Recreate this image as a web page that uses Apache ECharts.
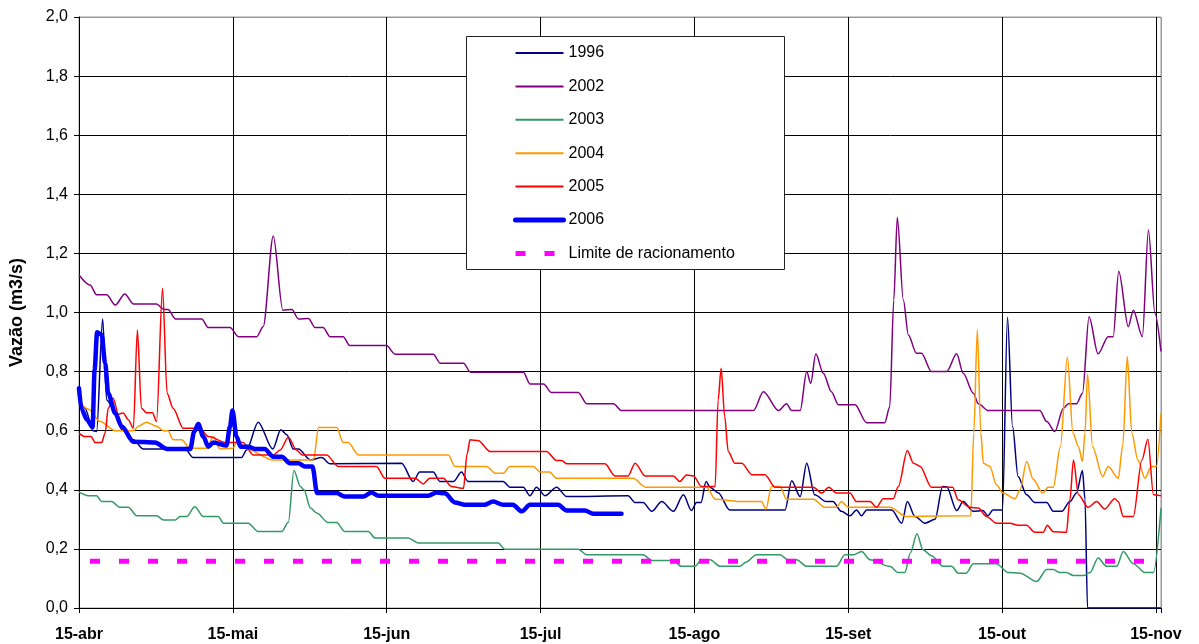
<!DOCTYPE html>
<html>
<head>
<meta charset="utf-8">
<script src="https://cdn.jsdelivr.net/npm/echarts@6/dist/echarts.min.js"></script>
<style>
  html, body { margin: 0; padding: 0; background: #fff; }
  #chart { width: 1199px; height: 644px; }
</style>
</head>
<body>
<div id="chart"></div>
<script>
// x = days since 15-abr, y = vazão (m3/s)
var monthLabels = ['15-abr', '15-mai', '15-jun', '15-jul', '15-ago', '15-set', '15-out', '15-nov'];
var seriesNames = ['1996', '2002', '2003', '2004', '2005', '2006', 'Limite de racionamento'];

var s1996 = [[0,0.704],[1.2,0.676],[2.8,0.60],[3.5,0.597],[4.7,0.979],[5.5,0.704],[7.2,0.665],[8.5,0.603],[10.8,0.569],[12.8,0.538],[21.1,0.538],[22.7,0.509],[32.3,0.509],[33.3,0.535],[35.6,0.629],[38.5,0.538],[40.1,0.603],[41.3,0.586],[42.6,0.538],[43.6,0.538],[46,0.501],[48.2,0.509],[49.9,0.488],[64.1,0.49],[66.4,0.428],[67.7,0.46],[70.4,0.46],[71.7,0.428],[74.4,0.428],[76,0.46],[77.3,0.428],[84.3,0.428],[85.6,0.409],[88.3,0.409],[89.6,0.38],[90.9,0.409],[92.6,0.38],[94.9,0.409],[96.9,0.377],[109.1,0.38],[110.5,0.357],[112.1,0.357],[113.8,0.327],[115.8,0.36],[118.1,0.327],[120.1,0.383],[121.7,0.33],[122.7,0.357],[123.6,0.357],[124.6,0.428],[125.4,0.409],[127,0.39],[129.3,0.332],[140.3,0.332],[141.6,0.431],[143.3,0.377],[144.6,0.49],[146.2,0.383],[148.5,0.36],[149.8,0.36],[151.5,0.327],[153.2,0.312],[154.5,0.332],[155.5,0.312],[156.5,0.332],[161.5,0.332],[163.5,0.287],[164.6,0.36],[166.1,0.31],[168.1,0.287],[170.1,0.30],[171.6,0.411],[172.4,0.41],[174.4,0.33],[175.7,0.36],[177.7,0.327],[179.6,0.33],[180.6,0.312],[181.6,0.332],[183.5,0.332],[184.5,0.984],[185.5,0.614],[186.6,0.445],[188.3,0.383],[189.9,0.357],[192.3,0.357],[193.6,0.327],[195.3,0.327],[196.9,0.36],[198.2,0.389],[199.4,0.465],[199.9,0.367],[200.4,0],[215,0]];

var s2002 = [[0,1.127],[2.2,1.093],[3.5,1.06],[5.5,1.06],[7.2,1.025],[9.1,1.063],[10.8,1.029],[15.4,1.029],[16.8,1.011],[17.7,1.01],[19.2,0.978],[24.4,0.978],[25.7,0.949],[30,0.949],[31.7,0.918],[35.3,0.918],[36.6,0.952],[38.6,1.259],[40.5,1.008],[42.3,1.01],[43.6,0.978],[45.6,0.98],[46.9,0.949],[48.5,0.949],[49.9,0.918],[52.5,0.918],[53.8,0.888],[61.1,0.888],[62.8,0.859],[70.4,0.859],[71.8,0.828],[76.4,0.828],[77.8,0.798],[88.3,0.798],[89.6,0.758],[92.3,0.758],[93.9,0.729],[99.2,0.729],[100.9,0.691],[106.2,0.691],[107.8,0.668],[134,0.668],[136,0.732],[139,0.668],[140.6,0.691],[141.6,0.668],[143.3,0.668],[144.6,0.80],[145.4,0.76],[146.4,0.86],[147.9,0.794],[149.5,0.732],[150.9,0.688],[154.2,0.688],[156.5,0.627],[160.1,0.627],[161.1,0.68],[161.9,1.042],[162.6,1.322],[163.8,1.042],[164.8,0.924],[166.4,0.862],[167.4,0.862],[169.4,0.80],[172.4,0.80],[174.4,0.86],[175.7,0.794],[177.7,0.727],[178.7,0.691],[180.7,0.668],[190.9,0.668],[192.3,0.631],[193.9,0.597],[195.6,0.676],[196.6,0.691],[198.2,0.691],[199.4,0.727],[200.7,0.986],[202.5,0.86],[204.5,0.918],[205.5,0.918],[206.6,1.14],[208.5,0.952],[209.5,1.008],[211.3,0.918],[212.5,1.279],[213.8,0.997],[215,0.868]];

var s2003 = [[0,0.392],[1.9,0.38],[3.5,0.38],[4.5,0.36],[6.5,0.36],[8.1,0.341],[9.8,0.341],[11.5,0.312],[15.4,0.312],[16.8,0.298],[19.1,0.298],[20.1,0.31],[21.4,0.31],[23.0,0.343],[24.7,0.31],[27.7,0.31],[28.7,0.287],[33.6,0.287],[35.6,0.259],[40.3,0.259],[41.6,0.29],[42.7,0.465],[44,0.411],[44.7,0.40],[46,0.338],[47.3,0.321],[49.5,0.289],[51.2,0.289],[52.8,0.259],[57.5,0.259],[58.8,0.237],[65.4,0.237],[67.4,0.22],[83.3,0.22],[84.6,0.199],[99.2,0.199],[100.9,0.18],[112.1,0.18],[113.8,0.161],[118.1,0.161],[119.7,0.141],[122.4,0.141],[123.7,0.163],[125.4,0.163],[127.4,0.141],[131.3,0.141],[132.5,0.155],[134.6,0.18],[139.3,0.18],[140.9,0.163],[142.6,0.163],[144.6,0.141],[150.5,0.141],[152.2,0.18],[153.9,0.18],[155.5,0.191],[157.2,0.163],[161.1,0.141],[162.8,0.12],[164.1,0.12],[165.2,0.186],[166.5,0.251],[167.7,0.197],[169.4,0.177],[171.7,0.141],[173.4,0.141],[174.7,0.118],[176.3,0.118],[177.7,0.15],[182.3,0.15],[184.6,0.12],[187,0.118],[190.3,0.09],[192.3,0.13],[193.6,0.13],[194.9,0.12],[196.2,0.12],[197.6,0.11],[199.6,0.11],[200.9,0.12],[202.5,0.169],[204.2,0.141],[206.2,0.141],[207.5,0.191],[209.5,0.15],[211.8,0.12],[213.5,0.12],[215,0.338]];

var s2004 = [[0,0.698],[1.9,0.673],[4.2,0.631],[7.2,0.60],[10.8,0.60],[11.8,0.615],[13.4,0.629],[15.4,0.615],[16.8,0.60],[17.7,0.60],[18.7,0.569],[20.4,0.569],[22,0.541],[25.4,0.541],[26.7,0.58],[28,0.538],[30.6,0.541],[31.5,0.567],[33,0.541],[38.6,0.501],[46.6,0.501],[47.6,0.611],[51.2,0.611],[52.5,0.56],[53.5,0.56],[55.5,0.518],[73.4,0.518],[74.7,0.479],[81,0.479],[82.7,0.456],[84.3,0.456],[85.6,0.479],[90.3,0.479],[91.6,0.46],[93.5,0.46],[94.9,0.439],[110.1,0.439],[112.6,0.409],[124.7,0.409],[126.4,0.368],[132,0.36],[135.6,0.36],[136.5,0.335],[137.6,0.411],[139.3,0.411],[140.6,0.368],[145.9,0.368],[148.2,0.341],[150.5,0.341],[151.5,0.36],[152.9,0.341],[161.1,0.341],[164.4,0.31],[177.2,0.312],[177.8,0.592],[178.5,0.941],[179.2,0.592],[179.7,0.49],[181,0.479],[182.3,0.417],[183.6,0.389],[186,0.37],[187,0.40],[188.3,0.496],[189.6,0.436],[191.5,0.389],[192.6,0.409],[193.6,0.409],[195,0.546],[196.4,0.849],[197.5,0.592],[198.6,0.546],[199.4,0.496],[199.9,0.592],[200.4,0.792],[201.4,0.546],[203.4,0.445],[204.5,0.479],[206.5,0.439],[207.4,0.55],[208.3,0.851],[209.2,0.592],[210.4,0.501],[211.8,0.439],[213.1,0.479],[214.1,0.479],[215,0.66]];

var s2005 = [[0,0.592],[1.2,0.58],[2.4,0.58],[3.2,0.56],[4.5,0.56],[5.2,0.592],[5.8,0.676],[6.8,0.71],[7.8,0.656],[8.8,0.66],[9.8,0.637],[10.8,0.608],[11.6,0.941],[12.4,0.676],[13.4,0.661],[14.6,0.661],[15.4,0.631],[16.6,1.082],[17.5,0.727],[18.7,0.676],[20.7,0.608],[24,0.608],[25.7,0.58],[29.3,0.56],[32.6,0.56],[34.6,0.518],[38.6,0.518],[40,0.535],[41.6,0.578],[43.2,0.535],[44.4,0.518],[49.2,0.518],[51.5,0.479],[59.1,0.479],[60.8,0.439],[66.8,0.439],[68.4,0.42],[69.7,0.439],[72.4,0.439],[74,0.411],[76.4,0.405],[77.1,0.52],[77.7,0.569],[79.3,0.567],[81.7,0.53],[92.9,0.53],[94.9,0.499],[95.9,0.499],[96.9,0.488],[104.5,0.488],[106.5,0.447],[109.1,0.447],[110.5,0.49],[112.5,0.447],[118.1,0.447],[119.4,0.428],[120.7,0.45],[122.1,0.447],[123.7,0.411],[126.4,0.411],[127,0.704],[127.6,0.811],[128.3,0.648],[129,0.53],[130.3,0.49],[131.7,0.49],[133.7,0.451],[136.3,0.451],[138.3,0.409],[145.9,0.409],[147.6,0.389],[149,0.409],[150.5,0.389],[153.2,0.389],[154.5,0.36],[157.2,0.36],[158.5,0.341],[159.8,0.37],[161.8,0.37],[162.8,0.411],[164.6,0.533],[165.8,0.49],[167.1,0.48],[169.4,0.409],[173.6,0.409],[174.7,0.366],[177,0.341],[178.7,0.338],[180.3,0.31],[182.3,0.287],[185,0.287],[186.6,0.28],[188.3,0.28],[189.9,0.256],[191.6,0.256],[192.4,0.28],[193.6,0.258],[196.2,0.256],[196.9,0.366],[197.6,0.501],[198.6,0.383],[200.5,0.341],[202.2,0.36],[203.8,0.335],[205.8,0.37],[206.5,0.36],[207.5,0.31],[209.5,0.31],[211.2,0.501],[212.4,0.571],[213.5,0.383],[215,0.38]];

var s2006 = [[0,0.744],[0.5,0.673],[1.6,0.637],[2.7,0.612],[3.1,0.806],[3.6,0.933],[4.5,0.925],[5.2,0.828],[5.8,0.727],[7.2,0.659],[8.5,0.614],[10.8,0.563],[15.1,0.56],[17.5,0.538],[22.1,0.538],[22.9,0.597],[23.7,0.623],[24.7,0.58],[25.7,0.546],[26.7,0.56],[29.3,0.55],[30,0.614],[30.5,0.668],[31.3,0.58],[32.1,0.546],[33.6,0.546],[35,0.538],[36.9,0.538],[38.6,0.512],[40.3,0.512],[41.9,0.49],[43.6,0.49],[44.9,0.479],[46.4,0.479],[47.3,0.389],[51.2,0.389],[52.8,0.377],[56.5,0.377],[58.1,0.391],[59.5,0.38],[69.4,0.38],[71.1,0.391],[72.7,0.388],[74.7,0.357],[76.7,0.349],[80.5,0.349],[82.3,0.36],[84.3,0.349],[86.2,0.349],[88,0.327],[89.6,0.349],[95.2,0.349],[96.9,0.33],[100.5,0.33],[102.2,0.319],[107.8,0.319]];

var limite = [[0,0.158],[215,0.158]];

var FONT = 'Liberation Sans, Arial, sans-serif';
var step = 214 / 7;

function thin(name, color, data) {
  return {
    name: name, type: 'line', data: data, symbol: 'none',
    smooth: 0.3, smoothMonotone: 'x',
    lineStyle: { color: color, width: 1.5 },
    itemStyle: { color: color }
  };
}

var chart = echarts.init(document.getElementById('chart'));

var option = {
  animation: false,
  backgroundColor: '#fff',
  grid: {
    left: 79, right: 38, top: 17, bottom: 36,
    show: true, borderColor: '#999', borderWidth: 1
  },
  legend: {
    orient: 'vertical',
    left: 513, top: 45,
    padding: 0,
    itemWidth: 48, itemHeight: 16, itemGap: 17.4,
    z: 10,
    itemStyle: { opacity: 0 },
    textStyle: { fontFamily: FONT, fontSize: 16, color: '#000' },
    data: [
      { name: '1996', lineStyle: { width: 2 } },
      { name: '2002', lineStyle: { width: 2 } },
      { name: '2003', lineStyle: { width: 2 } },
      { name: '2004', lineStyle: { width: 2 } },
      { name: '2005', lineStyle: { width: 2 } },
      { name: '2006', lineStyle: { width: 5 } },
      { name: 'Limite de racionamento', lineStyle: { width: 5, dashOffset: 0 } }
    ]
  },
  graphic: [{
    type: 'rect', z: 5,
    shape: { x: 466.5, y: 36.5, width: 318, height: 233 },
    style: { fill: '#fff', stroke: '#222', lineWidth: 1 }
  }],
  xAxis: {
    type: 'value', min: 0, max: 215, interval: step,
    axisLine: { lineStyle: { color: '#000', width: 1 } },
    axisTick: { show: true, length: 5, lineStyle: { color: '#000' } },
    axisLabel: {
      margin: 19, fontFamily: FONT, fontSize: 16, fontWeight: 'bold', color: '#000',
      formatter: function (v) {
        var i = Math.round(v / step);
        return Math.abs(v - i * step) < 0.5 ? (monthLabels[i] || '') : '';
      }
    },
    splitLine: { show: true, lineStyle: { color: ['#000', '#000', '#000', '#000', '#000', '#000', '#000', '#000', '#999'], width: 1 } }
  },
  yAxis: {
    type: 'value', min: 0, max: 2, interval: 0.2,
    name: 'Vazão (m3/s)', nameLocation: 'middle', nameGap: 53,
    nameTextStyle: { fontFamily: FONT, fontSize: 18, fontWeight: 'bold', color: '#000' },
    axisLine: { show: true, lineStyle: { color: '#000', width: 1 } },
    axisTick: { show: true, length: 5, lineStyle: { color: '#000' } },
    axisLabel: {
      margin: 11, fontFamily: FONT, fontSize: 16, color: '#000',
      formatter: function (v) { return v.toFixed(1).replace('.', ','); }
    },
    splitLine: { show: true, lineStyle: { color: ['#000', '#000', '#000', '#000', '#000', '#000', '#000', '#000', '#000', '#000', '#999'], width: 1 } }
  },
  series: [
    thin(seriesNames[0], '#000080', s1996),
    thin(seriesNames[1], '#800080', s2002),
    thin(seriesNames[2], '#339966', s2003),
    thin(seriesNames[3], '#FF9900', s2004),
    thin(seriesNames[4], '#FF0000', s2005),
    {
      name: seriesNames[5], type: 'line', data: s2006, symbol: 'none',
      smooth: 0.3, smoothMonotone: 'x',
      lineStyle: { color: '#0000FF', width: 4.5, join: 'round', cap: 'round' },
      itemStyle: { color: '#0000FF' }
    },
    {
      name: seriesNames[6], type: 'line', data: limite, symbol: 'none',
      lineStyle: { color: '#FF00FF', width: 5, type: [10, 19], dashOffset: 18, cap: 'butt' },
      itemStyle: { color: '#FF00FF' }
    }
  ]
};

chart.setOption(option);
</script>
</body>
</html>
